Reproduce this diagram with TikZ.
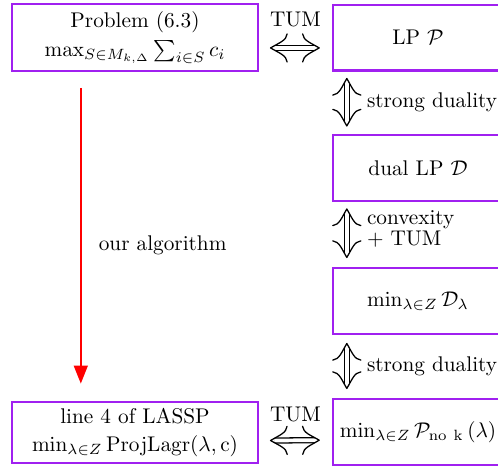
\documentclass[tikz,border=0pt]{standalone}
\usetikzlibrary{arrows.meta}
\definecolor{boxpurple}{RGB}{160,32,240}
\pgfdeclarearrow{
  name = BigImp,
  setup code = {
    \pgfarrowssettipend{0pt}
    \pgfarrowssetlineend{-2pt}
    \pgfarrowssetbackend{-7.8pt}
    \pgfarrowshullpoint{0pt}{0pt}
    \pgfarrowshullpoint{-7.8pt}{6.6pt}
    \pgfarrowshullpoint{-7.8pt}{-6.6pt}
  },
  drawing code = {
    \pgfsetlinewidth{0.6pt}
    \pgfsetdash{}{0pt}
    \pgfsetroundcap
    \pgfsetroundjoin
    \pgfpathmoveto{\pgfpoint{-7.8pt}{6.6pt}}
    \pgfpathcurveto{\pgfpoint{-7.5pt}{3.5pt}}{\pgfpoint{-4pt}{2.4pt}}{\pgfpoint{0pt}{0pt}}
    \pgfpathcurveto{\pgfpoint{-4pt}{-2.4pt}}{\pgfpoint{-7.5pt}{-3.5pt}}{\pgfpoint{-7.8pt}{-6.6pt}}
    \pgfusepathqstroke
  }
}
\begin{document}
\begin{tikzpicture}[x=0.4706pt,y=-0.4706pt,
  box/.style={draw=boxpurple, line width=1pt, inner sep=0pt, align=center},
  lbox/.style={box, minimum width=115.8pt, minimum height=31.5pt},
  rbox/.style={box, minimum width=80pt, minimum height=31pt},
  dbl/.style={double, line width=0.6pt, double distance=1.75pt, BigImp-BigImp},
  lab/.style={inner sep=0pt, align=left},
  redarrow/.style={red, line width=0.95pt, -{Triangle[length=8.5pt,width=6.5pt]}}]
\useasboundingbox (0,0) rectangle (498,469);
\clip (0,0) rectangle (498,469);
\node[lbox] (p1) at (135,37.5) {Problem (6.3)\\[1.5pt] $\max_{S\in M_{k,\Delta}}\sum_{i\in S} c_i$};
\node[rbox] (lp) at (418,37.5) {LP $\mathcal{P}$};
\node[rbox] (dual) at (418,168) {dual LP $\mathcal{D}$};
\node[rbox] (mind) at (418,301) {$\min_{\lambda\in Z}\mathcal{D}_\lambda$};
\node[rbox] (minp) at (418,432) {$\min_{\lambda\in Z}\mathcal{P}_{\mathrm{no\ k}}\,(\lambda)$};
\node[lbox, minimum height=29pt] (lasp) at (135,432.5) {line 4 of LASSP\\[1pt] $\min_{\lambda\in Z}\mathrm{ProjLagr}(\lambda,\mathrm{c})$};
% horizontal equivalences
\draw[dbl, shorten <=5.4pt, shorten >=6pt] ([yshift=-4.9pt]p1.east) -- ([yshift=-4.9pt]lp.west)
  node[midway, above=9.5pt, inner sep=0pt] (tum1) {TUM};
\draw[dbl, shorten <=5.4pt, shorten >=6pt] ([yshift=-3.8pt]lasp.east) -- ([yshift=-3.8pt]minp.west)
  node[midway, above=8.3pt, inner sep=0pt] (tum2) {TUM};
% vertical equivalences
\draw[dbl, shorten <=3.3pt, shorten >=3.8pt] ([xshift=7pt]lp.south west) -- ([xshift=7pt]dual.north west)
  node[midway, right=9.2pt, lab] (sd1) {strong duality};
\draw[dbl, shorten <=3.3pt, shorten >=4.5pt] ([xshift=7pt]dual.south west) -- ([xshift=7pt]mind.north west)
  node[midway, right=9.2pt, yshift=2.5pt, lab] (cv) {convexity\\[-2pt]+ TUM};
\draw[dbl, shorten <=4pt, shorten >=4.5pt] ([xshift=7pt]mind.south west) -- ([xshift=7pt]minp.north west)
  node[midway, right=9.2pt, lab] (sd2) {strong duality};
% algorithm
\draw[redarrow, shorten <=7.5pt, shorten >=8pt] ([xshift=32.9pt]p1.south west) -- ([xshift=32.9pt]lasp.north west)
  node[midway, right=8pt, yshift=-4pt, inner sep=0pt, text=black] (alg) {our algorithm};
\end{tikzpicture}
\end{document}
